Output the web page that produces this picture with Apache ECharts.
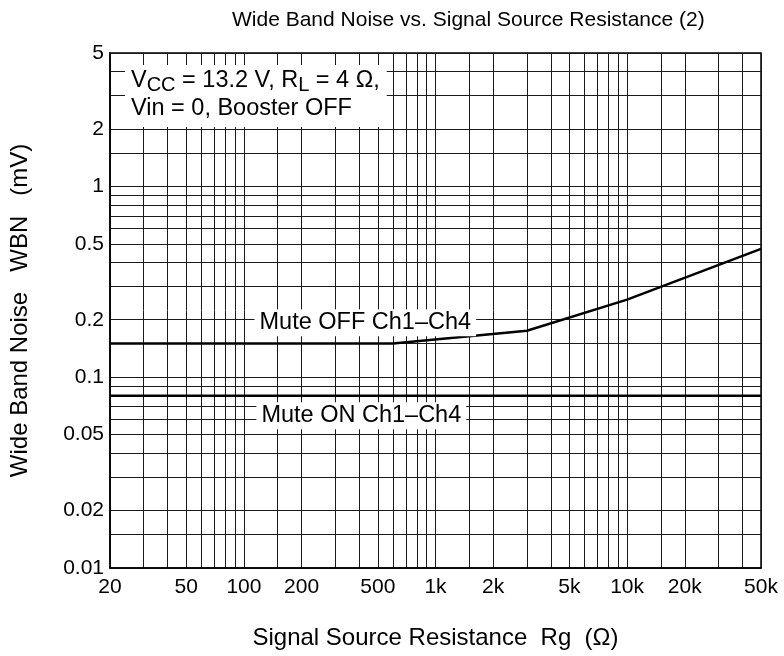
<!DOCTYPE html>
<html><head><meta charset="utf-8">
<script src="https://cdn.jsdelivr.net/npm/echarts@6/dist/echarts.min.js"></script>
<style>html,body{margin:0;padding:0;background:#fff}#c{width:784px;height:656px}</style>
</head><body><div id="c"></div>
<script>
// Data
const rgOff = [20, 600, 3000, 10000, 50000];
const wbnOff = [0.15, 0.15, 0.175, 0.255, 0.47];
const rgOn = [20, 50000];
const wbnOn = [0.08, 0.08];

// Tick labels
const xLabelValues = [20, 50, 100, 200, 500, 1000, 2000, 5000, 10000, 20000, 50000];
const yLabelValues = [0.01, 0.02, 0.05, 0.1, 0.2, 0.5, 1, 2, 5];
const gridMultiples = [1, 1.5, 2, 3, 4, 5, 6, 7, 8, 9];
const xDecades = [10, 100, 1000, 10000];
const yDecades = [0.01, 0.1, 1];

function gridValues(decades, lo, hi) {
  const out = [];
  decades.forEach(d => gridMultiples.forEach(m => {
    const v = +(m * d).toPrecision(6);
    if (v >= lo && v <= hi) out.push(v);
  }));
  if (out.indexOf(hi) < 0) out.push(hi);
  return out;
}
const xGrid = gridValues(xDecades, 20, 50000);
const yGrid = gridValues(yDecades, 0.01, 5);

const FONT = "'Liberation Sans', Arial, sans-serif";
const chart = echarts.init(document.getElementById('c'), null, {renderer: 'canvas'});

const xFmt = v => { const r = Math.round(v); return r >= 1000 ? (Math.round(r / 1000) + 'k') : String(r); };
const yFmt = v => String(+(+v).toPrecision(3));

chart.setOption({
  animation: false,
  backgroundColor: '#fff',
  title: {
    text: 'Wide Band Noise vs. Signal Source Resistance (2)',
    left: 227, top: 5,
    textStyle: {fontFamily: FONT, fontSize: 21, fontWeight: 'normal', color: '#000'}
  },
  grid: {left: 110, top: 53, width: 651, height: 515, outerBoundsMode: 'none', containLabel: false,
         show: true, borderColor: '#000', borderWidth: 1.5, backgroundColor: 'transparent'},
  xAxis: {
    type: 'log', logBase: 10, min: 20, max: 50000,
    name: 'Signal Source Resistance  Rg  (\u03A9)',
    nameLocation: 'middle', nameGap: 58,
    nameTextStyle: {fontFamily: FONT, fontSize: 24, color: '#000'},
    axisLine: {show: true, lineStyle: {color: '#000', width: 1.5}},
    axisTick: {show: false, customValues: xGrid},
    axisLabel: {customValues: xLabelValues, formatter: xFmt, fontFamily: FONT, fontSize: 21, color: '#000', margin: 9, showMinLabel: true, showMaxLabel: true},
    splitLine: {show: true, lineStyle: {color: '#1a1a1a', width: 1}},
    minorSplitLine: {show: false}
  },
  yAxis: {
    type: 'log', logBase: 10, min: 0.01, max: 5,
    name: 'Wide Band Noise   WBN   (mV)',
    nameLocation: 'middle', nameGap: 78, nameRotate: 90,
    nameTextStyle: {fontFamily: FONT, fontSize: 24, color: '#000'},
    axisLine: {show: true, lineStyle: {color: '#000', width: 1.5}},
    axisTick: {show: false, customValues: yGrid},
    axisLabel: {customValues: yLabelValues, formatter: yFmt, fontFamily: FONT, fontSize: 21, color: '#000', margin: 6, showMinLabel: true, showMaxLabel: true},
    splitLine: {show: true, lineStyle: {color: '#1a1a1a', width: 1}}
  },
  series: [
    {
      name: 'Mute OFF', type: 'line', showSymbol: false, silent: true,
      data: rgOff.map((x, i) => [x, wbnOff[i]]),
      lineStyle: {color: '#000', width: 2.5},
      markPoint: {
        silent: true, symbol: 'circle', symbolSize: 1,
        itemStyle: {color: 'rgba(0,0,0,0)'},
        label: {show: true, position: 'inside', formatter: 'Mute OFF Ch1\u2013Ch4', backgroundColor: '#fff', padding: [2, 5, 1, 5], color: '#000', fontFamily: FONT, fontSize: 23.5},
        data: [{coord: [430, 0.193]}]
      }
    },
    {
      name: 'Mute ON', type: 'line', showSymbol: false, silent: true,
      data: rgOn.map((x, i) => [x, wbnOn[i]]),
      lineStyle: {color: '#000', width: 2.5},
      markPoint: {
        silent: true, symbol: 'circle', symbolSize: 1,
        itemStyle: {color: 'rgba(0,0,0,0)'},
        label: {show: true, position: 'inside', formatter: 'Mute ON Ch1\u2013Ch4', backgroundColor: '#fff', padding: [2, 5, 1, 5], color: '#000', fontFamily: FONT, fontSize: 23.5},
        data: [{coord: [410, 0.0628]}]
      }
    }
  ],
  graphic: [{
    type: 'text', left: 125, top: 65, z: 100,
    style: {
      text: '{n|V}{s|CC}{n| = 13.2 V, R}{s|L}{n| = 4 \u03A9,}\n{n|Vin = 0, Booster OFF}',
      backgroundColor: '#fff', padding: [2, 7, 4, 6],
      fill: '#000',
      rich: {
        n: {fontFamily: FONT, fontSize: 23.5, lineHeight: 28, color: '#000'},
        s: {fontFamily: FONT, fontSize: 20, lineHeight: 18, verticalAlign: 'bottom', color: '#000'}
      }
    }
  }]
});
</script></body></html>
